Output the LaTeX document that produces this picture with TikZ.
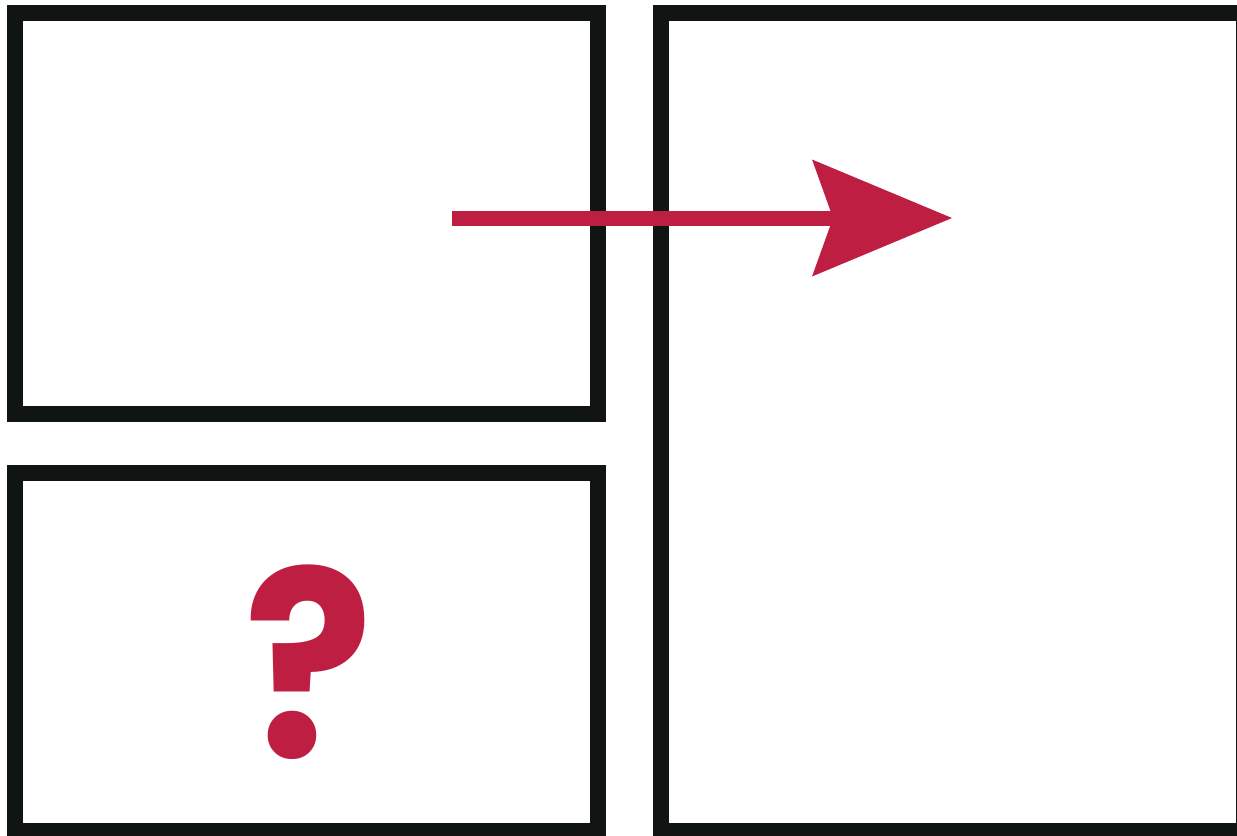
\documentclass[tikz,border=0pt]{standalone}
\usepackage{fontspec}
\usepackage{xcolor}
\usetikzlibrary{arrows.meta,positioning}
\newfontfamily\quizfont{Poppins}
\definecolor{inkblack}{RGB}{16,20,19}
\definecolor{crimson}{RGB}{190,30,66}

\begin{document}
\begin{tikzpicture}[x=0.02cm,y=-0.02cm,
    panel/.style={draw=inkblack,line width=0.32cm,inner sep=0pt,outer sep=0pt},
    flow/.style={-{Stealth[length=2.8cm,width=2.34cm,inset=0.42cm,line width=0pt]},
      draw=crimson,line width=0.3cm},
    quizmark/.style={text=crimson,inner sep=0pt,xscale=0.92,
      font=\quizfont\bfseries\fontsize{148}{148}\selectfont}
  ]
    \useasboundingbox (0,0) rectangle (1237,835);
    \node[panel,minimum width=11.66cm,minimum height=8.02cm] (top) at (306.5,213.5) {};
    \node[panel,minimum width=11.66cm,minimum height=7.16cm] (bottom) at (306.5,652) {};
    \node[panel,minimum width=11.67cm,minimum height=16.36cm] (right) at (952.25,422) {};
    \node[quizmark] (quiz) at (309,662) {?};
    \coordinate (start) at (452,218);
    \coordinate (tip) at (952,218);
    \draw[flow] (start) -- (tip);
  \end{tikzpicture}
\end{document}
